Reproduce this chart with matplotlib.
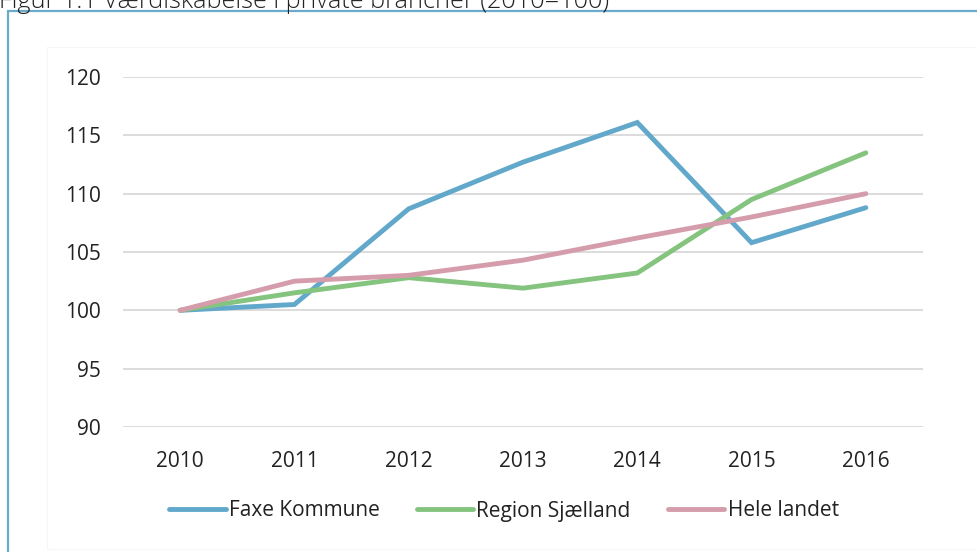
import matplotlib.pyplot as plt
from matplotlib.patches import Rectangle

plt.rcParams["font.family"] = ["Open Sans", "DejaVu Sans"]

years = ["2010", "2011", "2012", "2013", "2014", "2015", "2016"]
faxe = [100.0, 100.5, 108.7, 112.7, 116.1, 105.8, 108.8]
region = [100.0, 101.5, 102.8, 101.9, 103.2, 109.5, 113.5]
hele = [100.0, 102.5, 103.0, 104.3, 106.2, 108.0, 110.0]
yticks = [90, 95, 100, 105, 110, 115, 120]

title = "Figur 1.1 Værdiskabelse i private brancher (2010=100)"

fig = plt.figure(figsize=(9.78, 5.52), dpi=100)
W, H = 978, 552

# blue outer frame (runs off the right and bottom edge)
fig.patches.append(Rectangle((8 / W, -0.05), 1.0, 1 - 11 / H + 0.05,
                             transform=fig.transFigure, fill=False,
                             edgecolor="#6aaacb", linewidth=1.6))
# faint inner chart area frame
fig.patches.append(Rectangle((47 / W, 3 / H), 1.0, 1 - 50 / H,
                             transform=fig.transFigure, fill=False,
                             edgecolor="#f6f6f6", linewidth=0.8))

fig.text(-1 / W, 1 - 7.5 / H, title, fontsize=18.2, color="#222222",
         ha="left", va="baseline", fontweight="light")

ax = fig.add_axes([123 / W, 1 - 427 / H, 800 / W, 350 / H])
x = range(len(years))
lw = 3.5
ax.plot(x, faxe, color="#62a8cb", lw=lw, label="Faxe Kommune",
        solid_capstyle="round", solid_joinstyle="miter")
ax.plot(x, region, color="#84c47f", lw=lw, label="Region Sjælland",
        solid_capstyle="round", solid_joinstyle="miter")
ax.plot(x, hele, color="#d59dab", lw=lw, label="Hele landet",
        solid_capstyle="round", solid_joinstyle="miter")

ax.set_xlim(-0.5, len(years) - 0.5)
ax.set_ylim(90, 120)
ax.set_xticks(list(x))
ax.set_xticklabels(years)
ax.set_yticks(yticks)
ax.grid(axis="y", color="#d9d9d9", linewidth=1.3)
ax.set_axisbelow(True)
for s in ax.spines.values():
    s.set_visible(False)
ax.tick_params(axis="both", length=0, labelsize=15, colors="#222222")
ax.tick_params(axis="y", pad=16)
ax.tick_params(axis="x", pad=17)

fig.legend(loc="center", bbox_to_anchor=(504 / W, 1 - 511 / H), ncol=3,
           frameon=False, fontsize=15, handlelength=2.7, handletextpad=0.15,
           columnspacing=1.8, labelcolor="#222222")

fig.savefig("out.png", dpi=100)
